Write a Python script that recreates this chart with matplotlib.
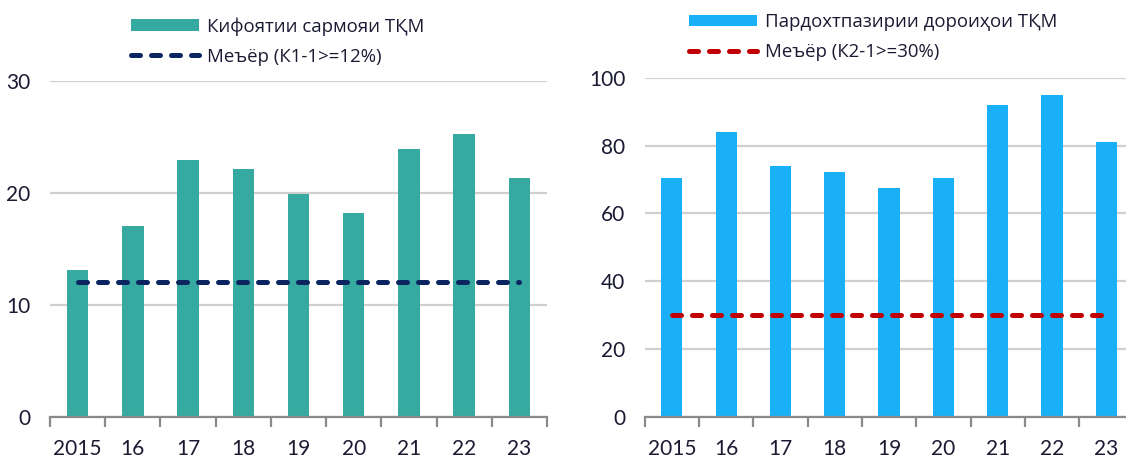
import matplotlib
matplotlib.use("Agg")
import matplotlib.pyplot as plt
import numpy as np
from matplotlib.patches import Patch
from matplotlib.lines import Line2D

plt.rcParams['font.family'] = ['Lato', 'Noto Sans', 'DejaVu Sans']

years = ["2015", "16", "17", "18", "19", "20", "21", "22", "23"]
capital_adequacy = [13.1, 17.0, 22.9, 22.1, 19.9, 18.2, 23.9, 25.3, 21.3]
capital_norm = [12] * 9
liquidity = [70.3, 83.9, 73.9, 72.3, 67.4, 70.4, 91.9, 94.9, 80.9]
liquidity_norm = [30] * 9

label_bar1 = "Кифоятии сармояи ТҚМ"
label_line1 = "Меъёр (К1-1>=12%)"
label_bar2 = "Пардохтпазирии дороиҳои ТҚМ"
label_line2 = "Меъёр (К2-1>=30%)"

W, H = 1126, 458
fig = plt.figure(figsize=(W / 100, H / 100), dpi=100)

text_color = "#1a1a33"
grid_color = "#d0d0d0"
axis_color = "#8a8a8a"
LW = 3.6
DASH = (1.8, 2.2)


def make_ax(left_px, right_px, top_px, bottom_px=416.7):
    return fig.add_axes([left_px / W, (H - bottom_px) / H,
                         (right_px - left_px) / W, (bottom_px - top_px) / H])


def style(ax, ymax, yticks):
    ax.set_ylim(0, ymax)
    ax.set_xlim(-0.5, len(years) - 0.5)
    ax.set_yticks(yticks)
    ax.yaxis.grid(True, color=grid_color, linewidth=1.6)
    ax.set_axisbelow(True)
    for s in ["top", "right", "left"]:
        ax.spines[s].set_visible(False)
    ax.spines["bottom"].set_color(axis_color)
    ax.spines["bottom"].set_linewidth(1.6)
    ax.set_xticks(np.arange(len(years)))
    ax.set_xticklabels(years)
    ax.set_xticks(np.arange(len(years) + 1) - 0.5, minor=True)
    ax.tick_params(axis="x", which="major", length=0, pad=16, labelsize=15,
                   labelcolor=text_color)
    ax.tick_params(axis="x", which="minor", length=7, width=1.6,
                   color=axis_color, direction="out")
    ax.tick_params(axis="y", length=0, pad=14, labelsize=15,
                   labelcolor=text_color)


x = np.arange(len(years))

# Left chart
ax1 = make_ax(50, 547, 81)
ax1.bar(x, capital_adequacy, width=0.39, color="#36aaa0", zorder=2)
ax1.plot(x, capital_norm, color="#0b2560", linewidth=LW,
         dashes=DASH, dash_capstyle="round", zorder=3)
style(ax1, 30, [0, 10, 20, 30])

# Right chart
ax2 = make_ax(644.7, 644.7 + 9 * 54.3, 77.7)
ax2.bar(x, liquidity, width=0.39, color="#1ab0f8", zorder=2)
ax2.plot(x, liquidity_norm, color="#c00000", linewidth=LW,
         dashes=DASH, dash_capstyle="round", zorder=3)
style(ax2, 100, [0, 20, 40, 60, 80, 100])


def add_legend(bar_label, line_label, bar_color, line_color, x_px, y_px):
    handles = [Patch(facecolor=bar_color, edgecolor="none"),
               Line2D([0], [0], color=line_color, linewidth=LW,
                      dashes=DASH, dash_capstyle="round")]
    leg = fig.legend(handles, [bar_label, line_label], loc="upper left",
                     bbox_to_anchor=(x_px / W, 1 - y_px / H),
                     bbox_transform=fig.transFigure,
                     frameon=False, prop={"family": ["Open Sans", "Noto Sans"], "size": 13.4},
                     handlelength=3.66, handleheight=0.6, handletextpad=0.43,
                     labelspacing=0.65, borderaxespad=0, borderpad=0,
                     labelcolor=text_color)
    return leg


add_legend(label_bar1, label_line1, "#36aaa0", "#0b2560", 131, 17)
add_legend(label_bar2, label_line2, "#1ab0f8", "#c00000", 689, 13)

fig.savefig("out.png", dpi=100)
